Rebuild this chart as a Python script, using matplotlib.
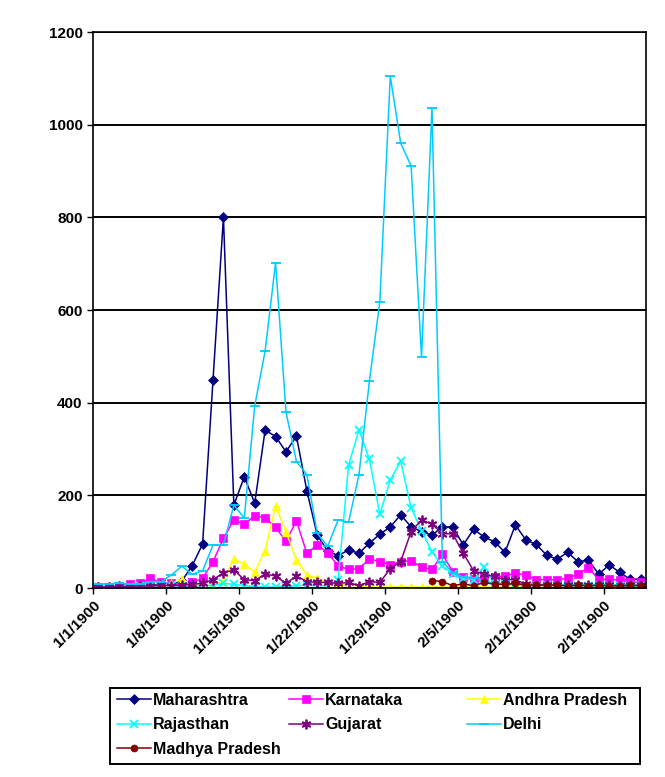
import numpy as np
import matplotlib
matplotlib.use('Agg')
import matplotlib.pyplot as plt

# fechas (una por dia) y etiquetas del eje x
etiquetas_x = ['1/1/1900', '1/8/1900', '1/15/1900', '1/22/1900',
               '1/29/1900', '2/5/1900', '2/12/1900', '2/19/1900']
n_dias = 53

maharashtra = [3, 2, 4, 5, 3, 6, 8, 8, 15, 48, 95, 449, 800, 179, 240, 183, 341, 327,
               294, 328, 210, 114, 80, 70, 82, 75, 97, 116, 132, 158, 132, 122, 114,
               132, 132, 93, 127, 110, 100, 77, 136, 104, 94, 71, 62, 77, 57, 60, 30,
               50, 34, 19, 19]
karnataka = [2, 3, 5, 8, 10, 21, 12, 10, 8, 12, 21, 57, 107, 147, 138, 156, 152, 131,
             101, 145, 75, 93, 76, 48, 40, 42, 63, 57, 50, 57, 59, 45, 40, 73, 35, 24,
             19, 24, 24, 26, 32, 28, 18, 18, 18, 21, 30, 44, 18, 19, 17, 13, 12]
andhra = [2, 3, 6, 4, 5, 6, 5, 10, 19, 8, 6, 5, 15, 62, 52, 34, 81, 177, 122, 60, 28,
          21, 10, 8, 5, 5, 3, 2, 2, 3, 2, 2, 3, 2, 2, 3, 2, 3, 2, 2, 3, 2, 2, 2, 3, 2,
          2, 2, 3, 2, 2, 2, 2]
rajasthan = [3, 2, 4, 3, 5, 4, 6, 5, 4, 3, 5, 6, 10, 8, 5, 3, 2, 2, 4, 5, 6, 5, 5, 17,
             265, 341, 278, 159, 233, 274, 173, 124, 78, 48, 30, 20, 18, 46, 10, 8, 6,
             5, 5, 6, 5, 4, 5, 5, 4, 5, 5, 4, 5]
gujarat = [2, 3, 4, 3, 5, 4, 6, 5, 6, 8, 10, 18, 33, 39, 18, 16, 30, 26, 10, 26, 14,
           12, 12, 10, 12, 5, 14, 12, 42, 57, 122, 147, 138, 117, 117, 75, 37, 30, 25,
           18, 18, 8, 6, 7, 6, 6, 7, 6, 6, 6, 5, 6, 6]
delhi = [8, 9, 10, 9, 8, 14, 14, 28, 47, 30, 37, 93, 93, 179, 151, 393, 512, 702, 380,
         273, 245, 118, 90, 147, 142, 245, 447, 618, 1105, 960, 911, 498, 1037, 57, 33,
         24, 22, 15, 10, 8, 8, 7, 8, 7, 6, 7, 6, 6, 7, 6, 6, 6, 5]
madhya = [np.nan] * 32 + [16, 14, 5, 9, 5, 12, 8, 8, 10, 7, 6, 7, 6, 5, 6, 5, 6, 5, 5,
                          6, 5]

series = [
    ('Maharashtra', maharashtra, '#000080', 'D', 5),
    ('Karnataka', karnataka, '#FF00FF', 's', 6),
    ('Andhra Pradesh', andhra, '#FFFF00', '^', 6),
    ('Rajasthan', rajasthan, '#00FFFF', 'x', 6),
    ('Gujarat', gujarat, '#800080', (6, 2, 0), 7),
    ('Delhi', delhi, '#00CCFF', '_', 7),
    ('Madhya Pradesh', madhya, '#800000', 'o', 5),
]

plt.rcParams['font.family'] = ['Liberation Sans', 'DejaVu Sans']
plt.rcParams['font.weight'] = 'bold'

W, H = 665, 777
fig = plt.figure(figsize=(W / 100, H / 100), dpi=100)
ax = fig.add_axes([0.140, 0.2432, 0.831, 0.7156])

x = np.arange(n_dias) + 0.5
lineas = {}
for nombre, valores, color, marcador, tam in series:
    finas = marcador in ('x', '_') or isinstance(marcador, tuple)
    l, = ax.plot(x, valores, color=color, marker=marcador, markersize=tam, linewidth=1.1,
                 markeredgewidth=1.3 if finas else 0.5, markeredgecolor=color, label=nombre)
    lineas[nombre] = l

ax.set_xlim(0, n_dias)
ax.set_ylim(0, 1200)
ax.set_yticks(range(0, 1201, 200))
ax.yaxis.grid(True, color='black', linewidth=1.4)
ax.set_axisbelow(True)
ax.set_xticks(range(0, 50, 7))
ax.set_xticklabels(etiquetas_x, rotation=45, ha='right', rotation_mode='anchor')
ax.tick_params(axis='both', labelsize=11, colors='black', length=4, width=1, direction='out')
for lado in ax.spines.values():
    lado.set_color('black')
    lado.set_linewidth(1.2)

# leyenda: tres columnas con su propia posicion, dentro de un marco comun
columnas = [
    (117, ['Maharashtra', 'Rajasthan', 'Madhya Pradesh']),
    (289, ['Karnataka', 'Gujarat']),
    (467, ['Andhra Pradesh', 'Delhi']),
]
for x0, nombres in columnas:
    leg = fig.legend([lineas[n] for n in nombres], nombres, loc='upper left',
                     bbox_to_anchor=(x0 / W, 1 - 693 / H), frameon=False, fontsize=11.5,
                     handlelength=2.1, handletextpad=0.15, borderpad=0, borderaxespad=0,
                     labelspacing=0.58)
fig.patches.append(plt.Rectangle((110 / W, 1 - 764 / H), 530 / W, 76 / H,
                                 transform=fig.transFigure, fill=False,
                                 edgecolor='black', linewidth=1.4))

plt.savefig('out.png', dpi=100)
plt.close()
